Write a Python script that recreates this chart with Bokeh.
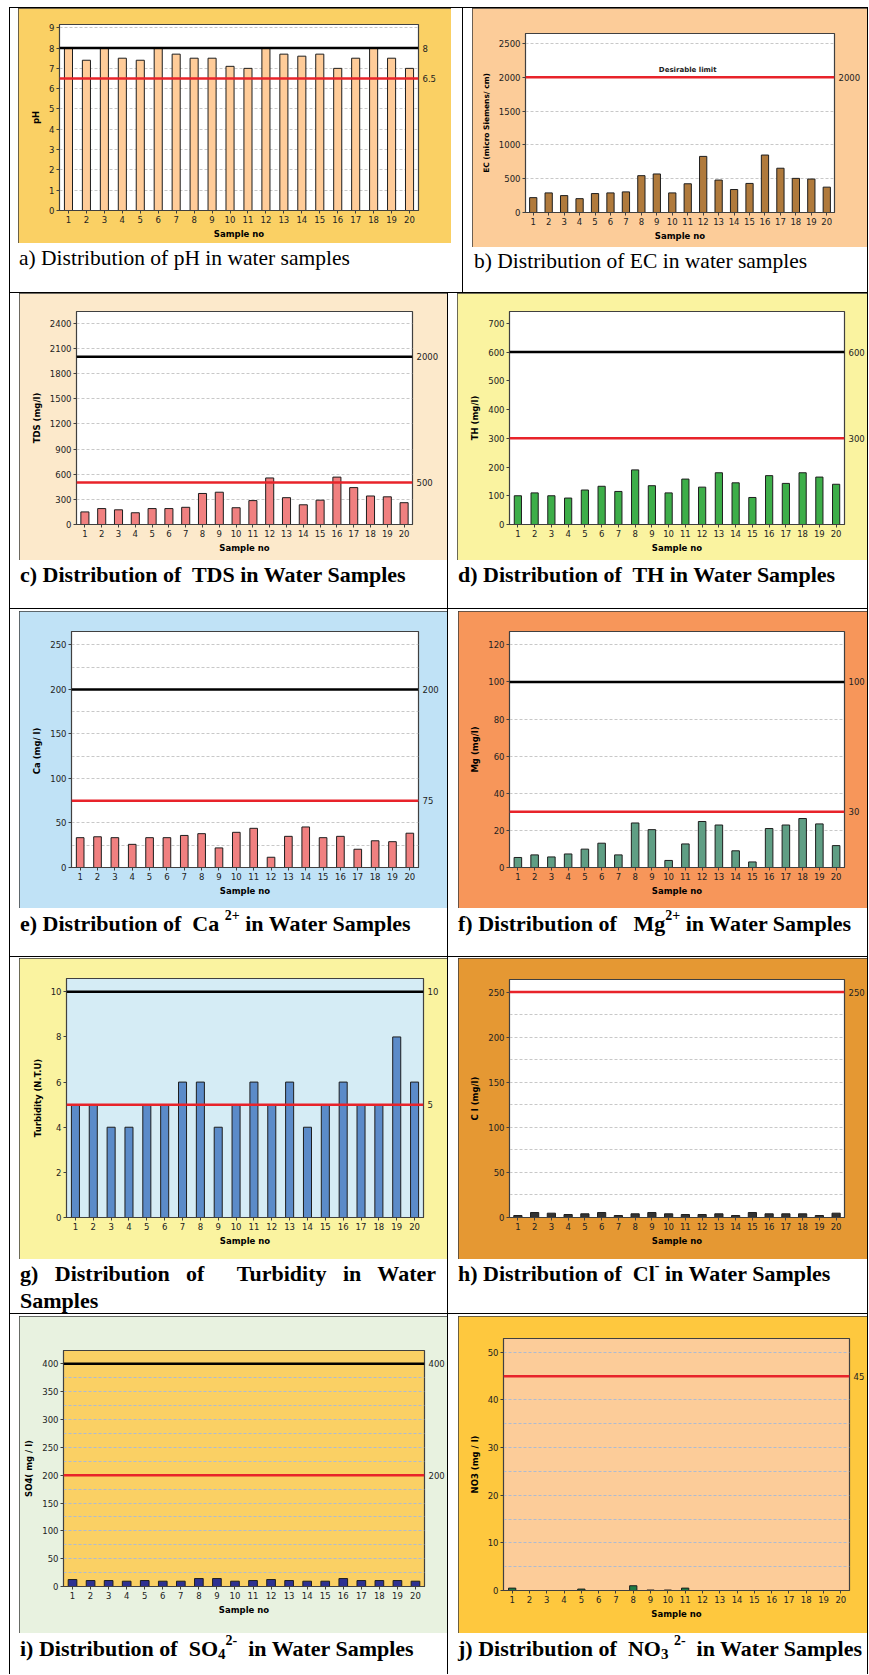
from bokeh.plotting import figure
from bokeh.models import Range1d, FactorRange, LinearAxis, FixedTicker, Span, Div, ColumnDataSource
from bokeh.layouts import row, column
from bokeh.core.properties import value
from bokeh.embed import file_html
from bokeh.resources import INLINE

# ---------------- data ----------------
samples = [str(i) for i in range(1, 21)]

ph_vals = [8.0, 7.4, 8.0, 7.5, 7.4, 8.0, 7.7, 7.5, 7.5, 7.1, 7.0, 8.0, 7.7, 7.6, 7.7, 7.0, 7.5, 8.0, 7.5, 7.0]
ec_vals = [220, 290, 250, 205, 280, 290, 305, 545, 570, 290, 425, 830, 480, 340, 430, 850, 655, 505, 495, 375]
tds_vals = [150, 190, 175, 140, 190, 190, 205, 370, 385, 200, 285, 555, 320, 235, 290, 565, 440, 340, 330, 260]
th_vals = [100, 110, 100, 92, 120, 133, 115, 190, 135, 110, 158, 130, 180, 145, 94, 170, 143, 180, 165, 140]
ca_vals = [33.5, 34.5, 33.5, 26, 33.5, 33.5, 36, 38, 22, 39.5, 44, 11.5, 35, 45.5, 33.5, 35, 20.5, 30, 29, 38.5]
mg_vals = [5.4, 6.8, 5.7, 7.3, 9.9, 13.1, 6.8, 24.0, 20.4, 3.8, 12.7, 24.8, 22.9, 9.0, 3.0, 21.0, 22.9, 26.4, 23.5, 11.8]
turb_vals = [5, 5, 4, 4, 5, 5, 6, 6, 4, 5, 6, 5, 6, 4, 5, 6, 5, 5, 8, 6]
cl_vals = [2.2, 5.5, 4.8, 3.3, 4.1, 5.5, 2.2, 4.1, 5.5, 4.1, 3.3, 3.3, 4.1, 2.2, 5.5, 4.1, 4.1, 4.1, 2.2, 4.8]
so4_vals = [12.5, 10.7, 10.7, 9.5, 10.7, 9.5, 9.5, 14.3, 14.3, 9.5, 10.7, 12.5, 10.7, 9.5, 9.5, 14.3, 10.7, 10.7, 10.7, 9.5]
no3_vals = [0.5, 0, 0, 0, 0.3, 0, 0, 1.0, 0.1, 0.1, 0.5, 0, 0, 0, 0, 0, 0, 0, 0, 0]

ph_ticks = [0, 1, 2, 3, 4, 5, 6, 7, 8, 9]
ec_ticks = [0, 500, 1000, 1500, 2000, 2500]
tds_ticks = [0, 300, 600, 900, 1200, 1500, 1800, 2100, 2400]
th_ticks = [0, 100, 200, 300, 400, 500, 600, 700]
ca_ticks = [0, 50, 100, 150, 200, 250]
mg_ticks = [0, 20, 40, 60, 80, 100, 120]
turb_ticks = [0, 2, 4, 6, 8, 10]
cl_ticks = [0, 50, 100, 150, 200, 250]
so4_ticks = [0, 50, 100, 150, 200, 250, 300, 350, 400]
no3_ticks = [0, 10, 20, 30, 40, 50]

BLACK = "#000000"
RED = "#E8232A"
ph_limits = [(8, BLACK), (6.5, RED)]
ec_limits = [(2000, RED)]
tds_limits = [(2000, BLACK), (500, RED)]
th_limits = [(600, BLACK), (300, RED)]
ca_limits = [(200, BLACK), (75, RED)]
mg_limits = [(100, BLACK), (30, RED)]
turb_limits = [(10, BLACK), (5, RED)]
cl_limits = [(250, RED)]
so4_limits = [(400, BLACK), (200, RED)]
no3_limits = [(45, RED)]

SANS = "DejaVu Sans"


def make_panel(vals, y_end, y_ticks, grid_ticks, limits, ylabel, bar_color, panel_color,
               W, H, bl, br, bt, bb, frame_color="#ffffff", grid_color="#c8c8c8",
               bar_w=0.46, ylabel_size="8.5px"):
    p = figure(x_range=FactorRange(factors=samples), y_range=Range1d(0, y_end),
               width=W, height=H, output_backend="svg", toolbar_location=None,
               min_border_left=bl, min_border_right=br, min_border_top=bt, min_border_bottom=bb)
    p.border_fill_color = panel_color
    p.background_fill_color = frame_color
    p.outline_line_color = "#404040"
    p.outline_line_width = 1.2
    p.styles = {"outline": "1px solid #3c3c3c", "outline-offset": "-1px"}
    p.xgrid.visible = False
    g = p.ygrid[0]
    if grid_ticks:
        g.ticker = FixedTicker(ticks=grid_ticks)
        g.grid_line_color = grid_color
        g.grid_line_dash = "3 2"
        g.grid_line_width = 1
    else:
        g.visible = False
    src = ColumnDataSource(data=dict(sample=samples, val=vals))
    p.vbar(x="sample", top="val", bottom=0, width=bar_w, source=src,
           fill_color=bar_color, line_color="#1e1e1e", line_width=1)
    for v, c in limits:
        p.add_layout(Span(location=v, dimension="width", line_color=c, line_width=2.5))

    ya = p.yaxis[0]
    ya.ticker = FixedTicker(ticks=y_ticks)
    ya.axis_label = ylabel
    ya.axis_label_text_font = SANS
    ya.axis_label_text_font_style = "bold"
    ya.axis_label_text_font_size = ylabel_size
    ya.axis_label_text_color = "#000000"
    ya.axis_label_standoff = 5
    ya.major_label_text_font = SANS
    ya.major_label_text_font_size = "8.5px"
    ya.major_label_text_color = "#222222"
    ya.major_label_standoff = 2
    ya.major_tick_out = 3
    ya.major_tick_in = 0
    ya.minor_tick_line_color = None
    ya.axis_line_color = "#404040"
    ya.major_tick_line_color = "#404040"

    xa = p.xaxis[0]
    xa.axis_label = "Sample no"
    xa.axis_label_text_font = SANS
    xa.axis_label_text_font_style = "bold"
    xa.axis_label_text_font_size = "8.5px"
    xa.axis_label_text_color = "#000000"
    xa.axis_label_standoff = 3
    xa.major_label_text_font = SANS
    xa.major_label_text_font_size = "8.5px"
    xa.major_label_text_color = "#222222"
    xa.major_label_standoff = 2
    xa.major_tick_out = 3
    xa.major_tick_in = 0
    xa.axis_line_color = "#404040"
    xa.major_tick_line_color = "#404040"

    lim_vals = [v for v, c in limits]
    ra = LinearAxis(ticker=FixedTicker(ticks=lim_vals),
                    major_label_overrides={v: ("%g" % v) for v in lim_vals})
    ra.axis_line_color = None
    ra.major_tick_line_color = None
    ra.minor_tick_line_color = None
    ra.major_tick_out = 0
    ra.major_tick_in = 0
    ra.major_label_standoff = 4
    ra.major_label_text_font = SANS
    ra.major_label_text_font_size = "8.5px"
    ra.major_label_text_color = "#222222"
    p.add_layout(ra, "right")
    return p


SUP = '<span style="font-size:14px;position:relative;top:-11px;">{}</span>'
SUB = '<span style="font-size:15px;position:relative;top:3px;">{}</span>'


def caption(html, w, h, left, pad, size=22, bold=True, justify=None):
    fw = "bold" if bold else "normal"
    extra = ("width:%dpx;text-align:justify;" % justify) if justify else "white-space:nowrap;"
    inner = ('<div style="margin:0;padding:0;font-family:\'Liberation Serif\';'
             'font-size:%spx;font-weight:%s;line-height:26.5px;color:#000;%s">%s</div>'
             % (size, fw, extra, html))
    return Div(text=inner, width=int(w - left), height=int(h - pad), margin=(int(pad), 0, 0, int(left)))


def cell(fig, cw, ch, left_off, top_off, fw, fh, cap):
    fig.margin = (int(top_off), int(cw - left_off - fw), 0, int(left_off))
    return column(fig, cap)


TW = 859  # table width incl. outer lines


def hline():
    return Div(text="", width=TW, height=1, margin=(0, 0, 0, 0), styles={"background-color": "#000"})


def vline(h):
    return Div(text="", width=1, height=h, margin=(0, 0, 0, 0), styles={"background-color": "#000"})


# ---------------- panels ----------------
pa = make_panel(ph_vals, 9.16, ph_ticks, [1, 2, 3, 4, 5, 6, 7, 9], ph_limits, "pH", "#FFCC99", "#FAD064",
                433, 235, 41, 33, 16, 33, bar_w=0.45)
pb = make_panel(ec_vals, 2648, ec_ticks, [500, 1000, 1500, 2500], ec_limits, "EC (micro Siemens/ cm)",
                "#B07A3C", "#FCCC99", 395, 239, 53, 33, 25, 35, bar_w=0.47, ylabel_size="7.5px")
pb.text(x=["11"], y=[2000], text=["Desirable limit"], text_align="center", text_baseline="bottom",
        y_offset=-3, text_font=value(SANS), text_font_size="7px", text_font_style="bold", text_color="#222222")
pc = make_panel(tds_vals, 2540, tds_ticks, tds_ticks[1:], tds_limits, "TDS (mg/l)", "#F08080", "#FCE9CB",
                428, 267, 57, 35, 18, 36, bar_w=0.48)
pd_ = make_panel(th_vals, 741, th_ticks, None, th_limits, "TH (mg/l)", "#3DAE49", "#FAF3A0",
                 410, 267, 52, 19, 18, 36, bar_w=0.43)
pe = make_panel(ca_vals, 265, ca_ticks, [25 * i for i in range(1, 11)], ca_limits, "Ca  (mg/ l)", "#F08080",
                "#C0E2F6", 428, 297, 52, 29, 20, 41, bar_w=0.44)
pf = make_panel(mg_vals, 127.2, mg_ticks, [20, 40, 60, 80, 120], mg_limits, "Mg (mg/l)", "#5F9E84",
                "#F7965A", 409, 297, 51, 19, 20, 41, bar_w=0.45)
pg = make_panel(turb_vals, 10.59, turb_ticks, None, turb_limits, "Turbidity (N.T.U)", "#5B8BC9",
                "#FAF3A0", 428, 301, 47, 24, 20, 42, frame_color="#D5ECF5", bar_w=0.45)
ph_ = make_panel(cl_vals, 264, cl_ticks, [25 * i for i in range(1, 10)], cl_limits, "C l (mg/l)", "#333333",
                 "#E59833", 409, 301, 51, 19, 21, 42, bar_w=0.49)
pi = make_panel(so4_vals, 424, so4_ticks, [25 * i for i in range(1, 16) if 25 * i != 200], so4_limits,
                "SO4( mg / l)", "#2E3192", "#E8F2E0", 428, 317, 44, 22, 34, 47, frame_color="#FAD064",
                grid_color="#AEBBD0", bar_w=0.48)
pj = make_panel(no3_vals, 52.9, no3_ticks, [5 * i for i in range(1, 11) if i != 9], no3_limits,
                "NO3 (mg / l)", "#1E7B45", "#FEC83E", 409, 317, 45, 16, 22, 43, frame_color="#FCCC99",
                grid_color="#AEBBD0", bar_w=0.42)

# ---------------- captions ----------------
A1W, B1W = 452, 404
AW, BW = 437, 419
ca_ = caption("a) Distribution of pH in water samples", A1W, 49, 9, 2, size=21.5, bold=False)
cb = caption("b) Distribution of EC in water samples", B1W, 45, 11, 1, size=21.5, bold=False)
cc = caption("c) Distribution of&nbsp; TDS in Water Samples", AW, 48, 10, 2)
cd = caption("d) Distribution of&nbsp; TH in Water Samples", BW, 48, 10, 2)
ce = caption("e) Distribution of&nbsp; Ca " + SUP.format("2+") + " in Water Samples", AW, 48, 10, 3)
cf = caption("f) Distribution of&nbsp;&nbsp; Mg" + SUP.format("2+") + " in Water Samples", BW, 48, 10, 3)
cg = caption("g) Distribution of&nbsp; Turbidity in Water Samples", AW, 54, 10, 2, justify=416)
ch = caption("h) Distribution of&nbsp; Cl" + SUP.format("-") + " in Water Samples", BW, 54, 10, 2)
ci = caption("i) Distribution of&nbsp; SO" + SUB.format("4") + SUP.format("2-") + "&nbsp; in Water Samples",
             AW, 41, 10, 3)
cj = caption("j) Distribution of&nbsp; NO" + SUB.format("3") + " " + SUP.format("2-") + "&nbsp; in Water Samples",
             BW, 41, 10, 3)

# ---------------- table layout ----------------
r1 = row(vline(284), cell(pa, A1W, 284, 8, 0, 433, 235, ca_), vline(284),
         cell(pb, B1W, 284, 9, 0, 395, 239, cb), vline(284))
r2 = row(vline(315), cell(pc, AW, 315, 9, 0, 428, 267, cc), vline(315),
         cell(pd_, BW, 315, 9, 0, 410, 267, cd), vline(315))
r3 = row(vline(347), cell(pe, AW, 347, 9, 2, 428, 297, ce), vline(347),
         cell(pf, BW, 347, 10, 2, 409, 297, cf), vline(347))
r4 = row(vline(356), cell(pg, AW, 356, 9, 1, 428, 301, cg), vline(356),
         cell(ph_, BW, 356, 10, 1, 409, 301, ch), vline(356))
r5 = row(vline(360), cell(pi, AW, 360, 9, 2, 428, 317, ci), vline(360),
         cell(pj, BW, 360, 10, 2, 409, 317, cj), vline(360))

layout = column(hline(), r1, hline(), r2, hline(), r3, hline(), r4, hline(), r5, margin=(7, 0, 0, 9))

open("out.html", "w").write(file_html(layout, INLINE))
